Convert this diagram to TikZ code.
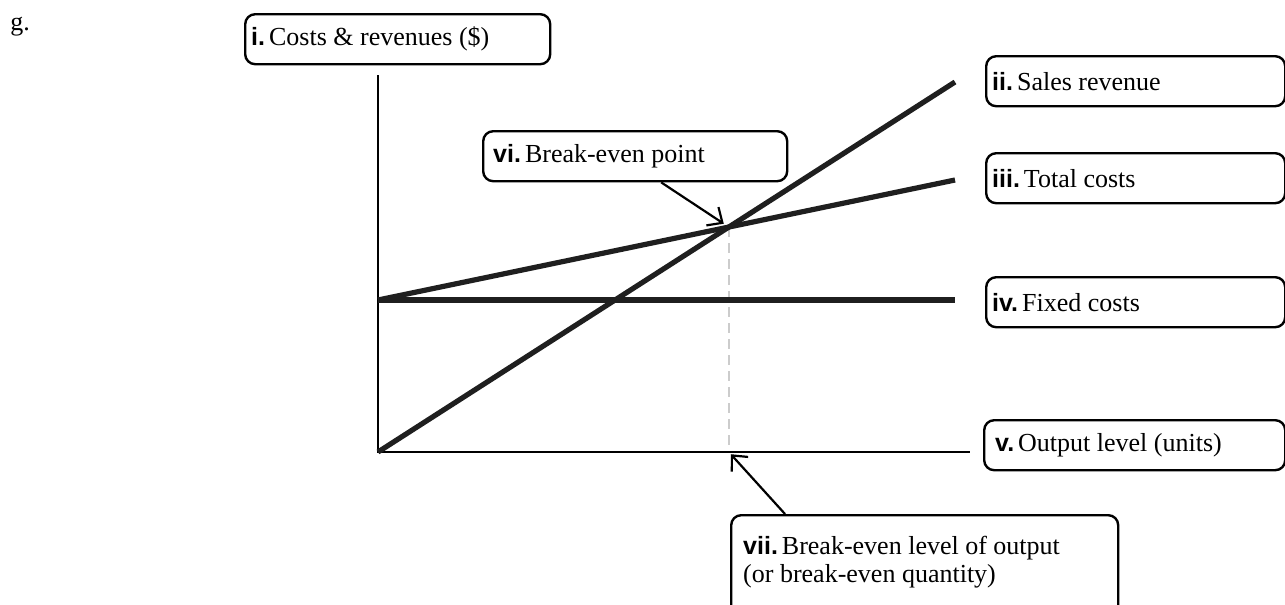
\documentclass[tikz,border=0pt]{standalone}
\usepackage{fontspec}
\setmainfont{Liberation Serif}
\setsansfont{Liberation Sans}
\usetikzlibrary{arrows.meta, positioning}
\newcommand{\tagnum}[1]{{\sffamily\bfseries\fontsize{12.5}{14}\selectfont #1}\hspace{2pt}}

\begin{document}
\begin{tikzpicture}[x=0.5pt, y=-0.5pt, every node/.style={font=\fontsize{13}{14}\selectfont}, tag/.style={draw, rounded corners=5pt, line width=1.2pt, anchor=north west, align=flush left, minimum height=25pt, inner xsep=3pt, inner ysep=2pt}, axis/.style={line width=1.2pt}, curve/.style={line width=2.6pt, black!88}, pointer/.style={->, line width=1.1pt}, >={Straight Barb[length=6pt, width=11pt]}]
	\clip (0,0) rectangle (1285,605);
	% Label
	\node[anchor=base west, inner sep=0pt] (g) at (10,31) {g.};

	% Axes and lines
	\coordinate (O) at (378,452);
	\coordinate (ytop) at (378,75);
	\coordinate (xend) at (970,452);
	\coordinate (fc) at (378,300);
	\coordinate (srend) at (955,82);
	\coordinate (tcend) at (955,180);
	\coordinate (fcend) at (955,300);
	\coordinate (bep) at (intersection of O--srend and fc--tcend);
	\coordinate (beq) at (bep |- O);

	\draw[gray!40, line width=1.2pt, dash pattern=on 5pt off 3pt] (bep) -- (beq);
	\draw[axis] (ytop) -- (O) -- (xend);
	\draw[curve] (O) -- (srend);
	\draw[curve] (fc) -- (tcend);
	\draw[curve] (fc) -- (fcend);

	% Boxes
	\node[tag, text width=146.5pt] (i) at (244,13) {\tagnum{i.}Costs \& revenues (\$)};
	\node[tag, text width=143.5pt] (ii) at (985,55) {\tagnum{ii.}Sales revenue};
	\node[tag, text width=143.5pt] (iii) at (985,152) {\tagnum{iii.}Total costs};
	\node[tag, text width=143.5pt] (iv) at (985,276) {\tagnum{iv.}Fixed costs};
	\node[tag, text width=139.5pt, inner xsep=5.5pt] (v) at (983,419) {\tagnum{v.}Output level (units)};
	\node[tag, text width=142pt, inner xsep=5pt] (vi) at (482,130) {\tagnum{vi.}Break-even point};
	\node[tag, text width=181.5pt, inner xsep=6pt, inner ysep=10.5pt, text depth=40pt] (vii) at (730,514) {\tagnum{vii.}Break-even level of output\\(or break-even quantity)};

	% Pointers
	\draw[pointer, shorten >=3pt] ([xshift=13pt]vi.south) -- (bep);
	\draw[pointer, shorten >=1.5pt] ([xshift=27.5pt]vii.north west) -- (beq);
\end{tikzpicture}
\end{document}
